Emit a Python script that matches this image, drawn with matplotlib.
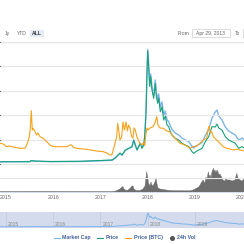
import matplotlib
import matplotlib.pyplot as plt
from matplotlib.lines import Line2D
from matplotlib.patches import Rectangle

matplotlib.use("Agg")
plt.rcParams["font.family"] = ["Liberation Sans", "DejaVu Sans"]

W = H = 244

# time axis in decimal years
price_t = [2014.873, 2015.508, 2015.530, 2015.614, 2015.932, 2016.568, 2016.992, 2017.246, 2017.309,
           2017.373, 2017.415, 2017.458, 2017.528, 2017.600, 2017.669, 2017.706, 2017.739, 2017.775,
           2017.811, 2017.845, 2017.881, 2017.917, 2017.939, 2017.966, 2017.987, 2018.002, 2018.023,
           2018.045, 2018.066, 2018.093, 2018.129, 2018.163, 2018.184, 2018.214, 2018.235, 2018.269,
           2018.305, 2018.341, 2018.375, 2018.411, 2018.447, 2018.481, 2018.517, 2018.587, 2018.659,
           2018.729, 2018.799, 2018.871, 2018.941, 2018.977, 2019.011, 2019.083, 2019.153, 2019.222,
           2019.294, 2019.364, 2019.434, 2019.470, 2019.506, 2019.576, 2019.646, 2019.718, 2019.788,
           2019.858, 2019.930, 2020.000, 2020.042]
price_usd = [2.9, 2.9, 6.5, 5.0, 3.5, 4.1, 6.5, 8, 14, 23, 29, 23, 38, 43, 48, 68, 53, 38, 48, 58, 43, 53,
             78, 148, 268, 335, 288, 228, 258, 218, 193, 238, 200, 178, 194, 153, 168, 128, 140, 113, 108,
             93, 83, 73, 68, 58, 53, 48, 33, 28, 32, 38, 43, 63, 78, 108, 107, 116, 104, 98, 78, 68, 63,
             58, 43, 48, 44]
market_cap_b = [0.15, 0.18, 0.31, 0.23, 0.17, 0.20, 0.31, 0.39, 0.71, 1.16, 1.48, 1.19, 1.99, 2.28, 2.55,
                3.64, 2.84, 2.07, 2.60, 3.16, 2.36, 2.92, 4.28, 8.12, 14.52, 18.15, 15.8, 12.6, 14.2, 12.12,
                10.84, 13.24, 11.32, 10.2, 11.0, 8.92, 9.72, 7.64, 8.28, 6.84, 6.6, 5.88, 5.32, 4.76, 4.44,
                3.96, 3.64, 3.4, 2.6, 2.36, 2.6, 2.92, 3.24, 4.36, 5.32, 7.16, 8.12, 8.44, 7.48, 6.84, 5.72,
                5.08, 4.76, 4.44, 3.64, 3.96, 3.64]

btc_t = [2014.873, 2014.943, 2015.015, 2015.085, 2015.148, 2015.212, 2015.297, 2015.403, 2015.439,
         2015.477, 2015.494, 2015.515, 2015.536, 2015.557, 2015.578, 2015.614, 2015.650, 2015.678,
         2015.720, 2015.790, 2015.826, 2015.862, 2015.932, 2016.002, 2016.144, 2016.286, 2016.356,
         2016.392, 2016.426, 2016.498, 2016.710, 2016.922, 2017.061, 2017.140, 2017.203, 2017.239,
         2017.273, 2017.309, 2017.345, 2017.367, 2017.388, 2017.415, 2017.451, 2017.479, 2017.511,
         2017.542, 2017.574, 2017.595, 2017.627, 2017.663, 2017.691, 2017.712, 2017.739, 2017.769,
         2017.803, 2017.839, 2017.875, 2017.909, 2017.939, 2017.966, 2017.987, 2018.008, 2018.051,
         2018.114, 2018.163, 2018.193, 2018.220, 2018.263, 2018.333, 2018.405, 2018.475, 2018.545,
         2018.617, 2018.686, 2018.756, 2018.828, 2018.898, 2018.968, 2019.040, 2019.110, 2019.180,
         2019.252, 2019.286, 2019.307, 2019.328, 2019.358, 2019.392, 2019.464, 2019.534, 2019.604,
         2019.676, 2019.746, 2019.816, 2019.888, 2019.958, 2020.042]
price_btc = [0.01035, 0.0100, 0.00865, 0.0090, 0.0085, 0.00825, 0.00785, 0.00785, 0.0095, 0.012, 0.01365,
             0.018, 0.02665, 0.017, 0.01785, 0.01615, 0.0145, 0.0155, 0.01365, 0.01285, 0.012, 0.01115,
             0.0095, 0.00865, 0.00865, 0.00865, 0.0095, 0.0095, 0.00835, 0.00785, 0.00735, 0.0065,
             0.00615, 0.0055, 0.0045, 0.0045, 0.007, 0.01035, 0.01365, 0.02035, 0.017, 0.012, 0.01365,
             0.021, 0.017, 0.021, 0.0165, 0.0195, 0.018, 0.01365, 0.013, 0.018, 0.017, 0.014, 0.012,
             0.01035, 0.0095, 0.0105, 0.00925, 0.01535, 0.018, 0.017, 0.018, 0.01865, 0.021, 0.02365,
             0.0195, 0.018, 0.01785, 0.0165, 0.016, 0.01365, 0.012, 0.01035, 0.00985, 0.009, 0.00785,
             0.00865, 0.009, 0.01035, 0.012, 0.013, 0.018, 0.019, 0.0155, 0.01615, 0.01365, 0.012,
             0.01035, 0.00865, 0.00785, 0.0075, 0.007, 0.00735, 0.007, 0.00665]

vol_t = [2014.873, 2015.932, 2016.568, 2017.246, 2017.309, 2017.373, 2017.415, 2017.458, 2017.479,
         2017.500, 2017.542, 2017.585, 2017.627, 2017.669, 2017.691, 2017.712, 2017.754, 2017.839,
         2017.903, 2017.945, 2017.981, 2017.998, 2018.019, 2018.051, 2018.072, 2018.093, 2018.114,
         2018.157, 2018.178, 2018.199, 2018.220, 2018.263, 2018.326, 2018.390, 2018.475, 2018.581,
         2018.686, 2018.792, 2018.898, 2018.962, 2019.004, 2019.047, 2019.089, 2019.131, 2019.174,
         2019.216, 2019.237, 2019.258, 2019.286, 2019.301, 2019.322, 2019.343, 2019.364, 2019.392,
         2019.407, 2019.428, 2019.449, 2019.470, 2019.492, 2019.513, 2019.534, 2019.555, 2019.597,
         2019.640, 2019.661, 2019.682, 2019.746, 2019.788, 2019.852, 2019.888, 2019.915, 2019.958,
         2020.000, 2020.042]
volume_b = [0.04, 0.06, 0.04, 0.04, 0.14, 0.4, 0.6, 1.0, 1.06, 0.6, 0.3, 0.4, 0.7, 1.2, 1.2, 0.6, 0.3,
            0.3, 0.6, 1.2, 4.06, 3.2, 1.8, 1.2, 2.0, 1.4, 1.2, 2.06, 2.8, 1.6, 0.8, 0.6, 0.5, 0.4, 0.3,
            0.26, 0.26, 0.24, 0.24, 0.4, 0.6, 0.8, 1.06, 1.74, 2.4, 1.8, 3.0, 2.4, 4.06, 3.2, 3.4, 2.8,
            4.0, 4.74, 4.2, 4.4, 3.8, 4.4, 4.0, 3.4, 3.6, 3.2, 2.4, 2.2, 2.8, 2.4, 2.4, 2.2, 2.4, 3.74,
            2.8, 2.4, 2.2, 2.6]

years = [2015, 2016, 2017, 2018, 2019, 2020]
year_labels = ["2015", "2016", "2017", "2018", "2019", "2020"]
legend_names = ["Market Cap", "Price", "Price (BTC)", "24h Vol"]

C_MC = "#7cb5ec"
C_PRICE = "#1aa17b"
C_BTC = "#f7a21b"
C_VOL = "#6e6e6e"
C_GRID = "#e6e6e6"
XLIM = (2014.873, 2020.042)


def px_axes(fig, x0, y0, x1, y1):
    return fig.add_axes([x0 / W, 1 - y1 / H, (x1 - x0) / W, (y1 - y0) / H])


def bare(ax):
    ax.set_xlim(*XLIM)
    ax.patch.set_alpha(0)
    for s in ax.spines.values():
        s.set_visible(False)
    ax.tick_params(left=False, right=False, bottom=False, top=False,
                   labelleft=False, labelright=False, labelbottom=False)


fig = plt.figure(figsize=(W / 100, H / 100), dpi=100)
fig.patch.set_facecolor("white")

# main panel
ax_price = px_axes(fig, 0, 42, 244, 164)
bare(ax_price)
ax_price.set_ylim(-4, 362)
ax_price.set_yticks([-4 + 73.2 * i for i in range(6)])
ax_price.grid(axis="y", color=C_GRID, linewidth=0.8)
ax_mc = ax_price.twinx()
bare(ax_mc)
ax_mc.set_ylim(-0.2, 19.32)
ax_btc = ax_price.twinx()
bare(ax_btc)
ax_btc.set_ylim(0, 0.061)

ax_mc.plot(price_t, market_cap_b, color=C_MC, linewidth=1.0, zorder=1)
ax_price.plot(price_t, price_usd, color=C_PRICE, linewidth=0.8, zorder=2)
ax_btc.plot(btc_t, price_btc, color=C_BTC, linewidth=0.8, zorder=3)
ax_price.set_zorder(2)
ax_mc.set_zorder(1)
ax_btc.set_zorder(3)

# volume panel
ax_vol = px_axes(fig, 0, 164, 244, 192)
bare(ax_vol)
ax_vol.set_ylim(0, 5.6)
ax_vol.set_yticks([2.8, 5.6])
ax_vol.grid(axis="y", color=C_GRID, linewidth=0.8)
ax_vol.fill_between(vol_t, volume_b, 0, color=C_VOL, linewidth=0.3)
ax_vol.spines["bottom"].set_visible(True)
ax_vol.spines["bottom"].set_color("#ccd6eb")
ax_vol.spines["bottom"].set_linewidth(0.6)
ax_vol.set_xticks(years)
ax_vol.set_xticklabels(year_labels)
ax_vol.tick_params(labelbottom=True, labelsize=3.8, labelcolor="#666666", pad=2, length=0)

# navigator
ax_nav = px_axes(fig, 0, 211.7, 244, 227.7)
ax_nav.set_xlim(*XLIM)
ax_nav.set_ylim(-1.2, 20.3)
ax_nav.set_facecolor("#d3dbed")
for s in ax_nav.spines.values():
    s.set_visible(False)
ax_nav.tick_params(left=False, bottom=False, labelleft=False, labelbottom=False)
for y in years[:-1]:
    ax_nav.axvline(y, color="#bfc8dc", linewidth=0.5)
    ax_nav.text(y + 0.04, -0.6, str(y), fontsize=3.6, color="#888888", va="bottom", ha="left")
ax_nav.plot(price_t, market_cap_b, color=C_MC, linewidth=0.7)

# header controls
fig.add_artist(Line2D([0, 1], [1 - 42 / H] * 2, color=C_GRID, linewidth=1.0))
for label, xc in [("1y", 7.5), ("YTD", 22), ("ALL", 36.5)]:
    weight = "bold" if label == "ALL" else "normal"
    if label == "ALL":
        fig.add_artist(Rectangle((30 / W, 1 - 36.5 / H), 13.5 / W, 6.5 / H,
                                 facecolor="#e6ebf5", edgecolor="none"))
    fig.text(xc / W, 1 - 33.2 / H, label, fontsize=3.6, color="#333333" if label == "ALL" else "#666666",
             ha="center", va="center", weight=weight)
fig.text(183 / W, 1 - 33.2 / H, "From", fontsize=3.6, color="#666666", ha="center", va="center")
fig.add_artist(Rectangle((191.5 / W, 1 - 36.5 / H), 38 / W, 7.5 / H,
                         facecolor="white", edgecolor="#cccccc", linewidth=0.5))
fig.text(210.5 / W, 1 - 33.2 / H, "Apr 29, 2013", fontsize=3.6, color="#666666", ha="center", va="center")
fig.text(238 / W, 1 - 33.2 / H, "To", fontsize=3.6, color="#666666", ha="center", va="center")
fig.add_artist(Rectangle((243 / W, 1 - 36.5 / H), 10 / W, 7.5 / H,
                         facecolor="white", edgecolor="#cccccc", linewidth=0.5))

# legend
ly = 1 - 237.7 / H
legend_items = [(legend_names[0], C_MC, 53.5, 62.5), (legend_names[1], C_PRICE, 96.5, 105.5),
                (legend_names[2], C_BTC, 124.5, 133.5), (legend_names[3], "#555555", 171.5, 177)]
for name, color, mx, tx in legend_items:
    if name == "24h Vol":
        fig.add_artist(Line2D([mx / W], [ly], marker="o", markersize=2.6, color=color, linestyle="none"))
    else:
        fig.add_artist(Line2D([mx / W, (mx + 6) / W], [ly, ly], color=color, linewidth=0.8))
    fig.text(tx / W, ly, name, fontsize=3.8, color="#3e5e9c", ha="left", va="center", weight="bold")

fig.savefig("out.png", dpi=100)
